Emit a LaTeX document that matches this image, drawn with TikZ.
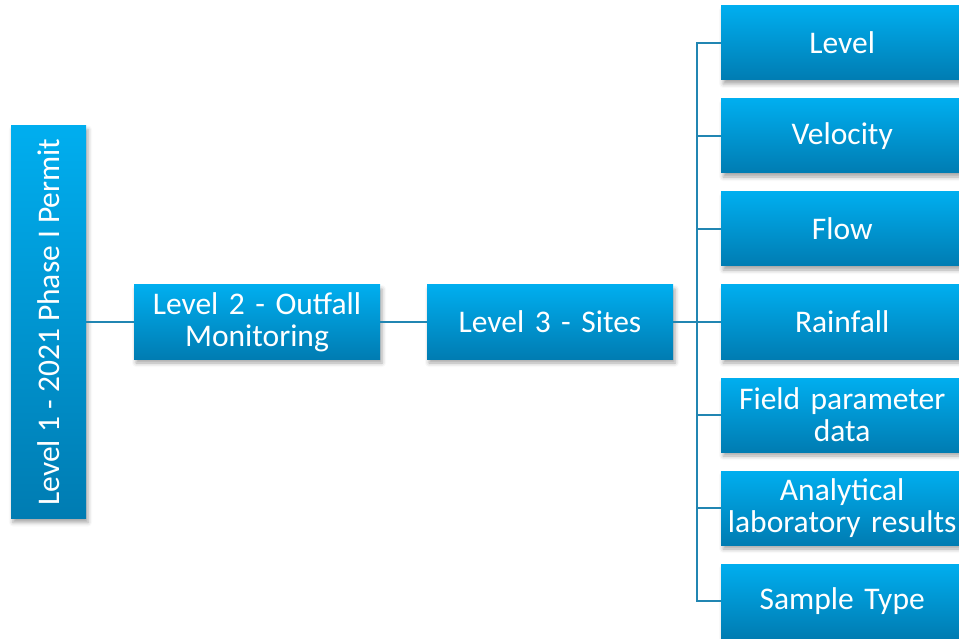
\documentclass[tikz,border=0pt]{standalone}
\usepackage{fontspec}
\usepackage{graphicx}
\setmainfont{Carlito}
\usetikzlibrary{shadows.blur}
\definecolor{boxtop}{RGB}{0,174,239}
\definecolor{boxbot}{RGB}{0,124,178}
\definecolor{linec}{RGB}{33,134,178}
\tikzset{
  box/.style={rectangle, inner sep=2pt, top color=boxtop, bottom color=boxbot,
    draw=none, text=white, align=center,
    font=\fontsize{31.5}{32}\selectfont,
    blur shadow={shadow xshift=2pt, shadow yshift=-4pt, shadow blur radius=4pt, shadow opacity=35}},
  wide/.style={box, minimum width=246pt, minimum height=74pt, text width=240pt},
  leaf/.style={box, minimum width=260pt, minimum height=74pt, text width=254pt},
  conn/.style={draw=linec, line width=1.8pt}
}
\begin{document}
\begin{tikzpicture}[x=1pt,y=-1pt]
\useasboundingbox (0,0) rectangle (959,639);
\clip (0,0) rectangle (959,639);
\node[box, minimum width=75pt, minimum height=393pt] (l1) at (48.5,322)
  {\rotatebox{90}{Level 1 - 2021 Phase I Permit}};
\node[wide] (l2) at (257,322) {Level 2 - Outfall\\Monitoring};
\node[wide] (l3) at (550,322) {Level 3 - Sites};
\node[leaf, anchor=west] (c1) at (721,43) {\hspace*{-18pt}Level};
\node[leaf, anchor=west] (c2) at (721,136) {\hspace*{-18pt}Velocity};
\node[leaf, anchor=west] (c3) at (721,229) {\hspace*{-18pt}Flow};
\node[leaf, anchor=west] (c4) at (721,322) {\hspace*{-18pt}Rainfall};
\node[leaf, anchor=west] (c5) at (721,415) {\hspace*{-18pt}Field parameter\\\hspace*{-18pt}data};
\node[leaf, anchor=west] (c6) at (721,508) {\hspace*{-18pt}Analytical\\\hspace*{-18pt}laboratory results};
\node[leaf, anchor=west] (c7) at (721,601) {\hspace*{-18pt}Sample Type};
\coordinate (bus) at (697,322);
\draw[conn] (l1.east) -- (l2.west);
\draw[conn] (l2.east) -- (l3.west);
\draw[conn] (l3.east) -- (bus);
\foreach \c in {c1,c2,c3,c4,c5,c6,c7} {
  \draw[conn] (bus) |- (\c.west);
}
\end{tikzpicture}
\end{document}
